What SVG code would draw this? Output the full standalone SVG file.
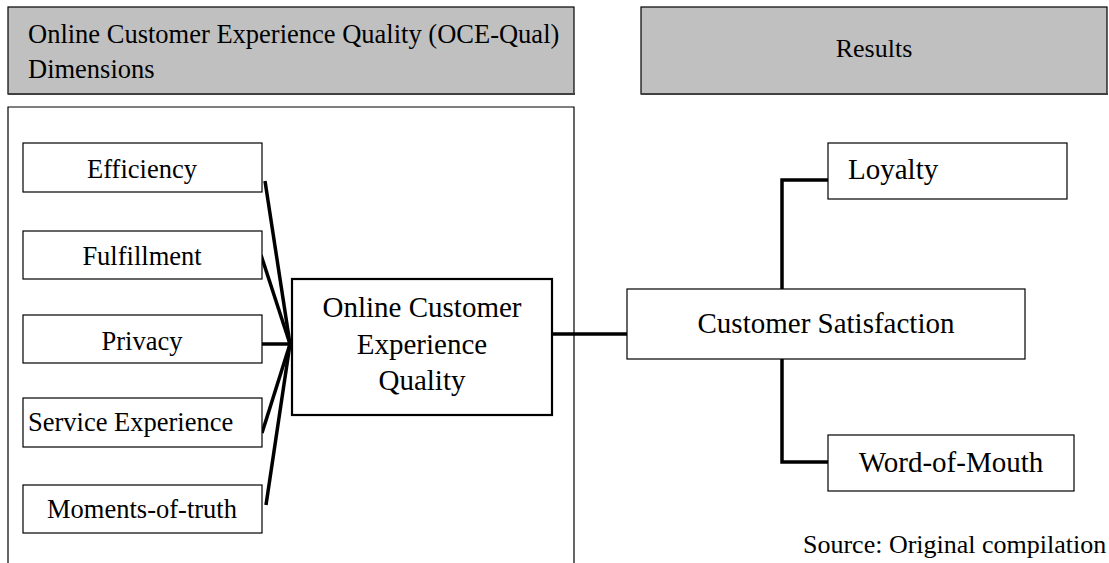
<svg xmlns="http://www.w3.org/2000/svg" width="1109" height="563" viewBox="0 0 1109 563">
<style>
.hdr{fill:#c0c0c0;stroke:#000;stroke-width:1.2}
.shadow{stroke:#404040;stroke-width:2;fill:none}
.box{fill:#fff;stroke:#000;stroke-width:1.2}
.box2{fill:#fff;stroke:#000;stroke-width:2.2}
.t{font-family:"Liberation Serif","Times New Roman",serif;fill:#000}
.c{text-anchor:middle}
.conn{stroke:#000;stroke-width:3.5;fill:none;stroke-linecap:butt}
</style>
<rect width="1109" height="563" fill="#fff"/>
<g id="header-left">
<rect class="hdr" x="8" y="7" width="566" height="87"/>
<line class="shadow" x1="8" y1="94" x2="575" y2="94"/>
<text class="t" x="28" y="43" font-size="26.5">Online Customer Experience Quality (OCE-Qual)</text>
<text class="t" x="28" y="78" font-size="26.5">Dimensions</text>
</g>
<g id="header-right">
<rect class="hdr" x="641" y="7" width="466" height="87"/>
<line class="shadow" x1="641" y1="94" x2="1108" y2="94"/>
<text class="t c" x="874" y="57" font-size="26">Results</text>
</g>
<g id="container">
<path d="M8,563 V107 H574 V563" fill="none" stroke="#000" stroke-width="1.2"/>
</g>
<g id="connectors">
<line class="conn" x1="265" y1="181" x2="290" y2="344"/>
<line class="conn" x1="261" y1="255" x2="290" y2="344"/>
<line class="conn" x1="262" y1="344" x2="292" y2="344"/>
<line class="conn" x1="262" y1="433" x2="290" y2="344"/>
<line class="conn" x1="266" y1="505" x2="290" y2="344"/>
<line class="conn" x1="552" y1="334" x2="627" y2="334"/>
<path class="conn" d="M828,180 H782 V289"/>
<path class="conn" d="M782,359 V462 H828"/>
</g>
<g id="efficiency">
<rect class="box" x="23" y="143" width="239" height="49"/>
<text class="t c" x="142" y="178" font-size="26.5">Efficiency</text>
</g>
<g id="fulfillment">
<rect class="box" x="23" y="231" width="239" height="48"/>
<text class="t c" x="142" y="265" font-size="26.5">Fulfillment</text>
</g>
<g id="privacy">
<rect class="box" x="23" y="315" width="239" height="48"/>
<text class="t c" x="142" y="350" font-size="26.5">Privacy</text>
</g>
<g id="service-experience">
<rect class="box" x="23" y="398" width="239" height="49"/>
<text class="t" x="28" y="431" font-size="26.5">Service Experience</text>
</g>
<g id="moments-of-truth">
<rect class="box" x="23" y="485" width="239" height="48"/>
<text class="t c" x="142" y="518" font-size="26.5">Moments-of-truth</text>
</g>
<g id="oceq">
<rect class="box2" x="292" y="279" width="260" height="136"/>
<text class="t c" x="422" y="317" font-size="29">Online Customer</text>
<text class="t c" x="422" y="354" font-size="29">Experience</text>
<text class="t c" x="422" y="390" font-size="29">Quality</text>
</g>
<g id="customer-satisfaction">
<rect class="box" x="627" y="289" width="398" height="70"/>
<text class="t c" x="826" y="333" font-size="29">Customer Satisfaction</text>
</g>
<g id="loyalty">
<rect class="box" x="828" y="143" width="239" height="56"/>
<text class="t" x="848" y="179" font-size="29">Loyalty</text>
</g>
<g id="word-of-mouth">
<rect class="box" x="828" y="435" width="246" height="56"/>
<text class="t c" x="951" y="472" font-size="29">Word-of-Mouth</text>
</g>
<text id="source" class="t" x="803" y="553" font-size="26">Source: Original compilation</text>
</svg>
